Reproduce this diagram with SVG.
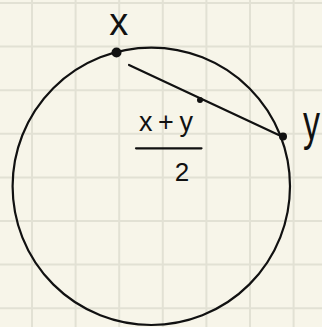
<svg xmlns="http://www.w3.org/2000/svg" width="322" height="327" viewBox="0 0 322 327">
  <style>
    .grid { stroke: #e2e1d4; stroke-width: 2; }
    .ink { stroke: #111; fill: none; stroke-width: 2.2; stroke-linecap: round; }
    .dot { fill: #111; }
    .lbl { font-family: "Liberation Sans", "DejaVu Sans", sans-serif; fill: #111; }
  </style>
  <rect width="322" height="327" fill="#f7f5e9"/>
  <g id="grid" class="grid">
    <line x1="32" y1="0" x2="32" y2="327"/>
    <line x1="75.6" y1="0" x2="75.6" y2="327"/>
    <line x1="119.2" y1="0" x2="119.2" y2="327"/>
    <line x1="162.8" y1="0" x2="162.8" y2="327"/>
    <line x1="206.4" y1="0" x2="206.4" y2="327"/>
    <line x1="250" y1="0" x2="250" y2="327"/>
    <line x1="293.6" y1="0" x2="293.6" y2="327"/>
    <line x1="0" y1="3" x2="322" y2="3"/>
    <line x1="0" y1="46.6" x2="322" y2="46.6"/>
    <line x1="0" y1="90.2" x2="322" y2="90.2"/>
    <line x1="0" y1="133.8" x2="322" y2="133.8"/>
    <line x1="0" y1="177.4" x2="322" y2="177.4"/>
    <line x1="0" y1="221" x2="322" y2="221"/>
    <line x1="0" y1="264.6" x2="322" y2="264.6"/>
    <line x1="0" y1="308.2" x2="322" y2="308.2"/>
  </g>
  <g id="circle">
    <circle class="ink" cx="151.3" cy="186.3" r="138.7"/>
  </g>
  <g id="connectors">
    <line class="ink" x1="129" y1="65" x2="283" y2="137"/>
  </g>
  <g id="point-x">
    <circle class="dot" cx="116.5" cy="52.5" r="5"/>
    <text class="lbl" x="118.7" y="35" font-size="38" text-anchor="middle">x</text>
  </g>
  <g id="point-y">
    <circle class="dot" cx="283" cy="136.5" r="4"/>
    <text class="lbl" font-size="50" transform="translate(303 140) scale(0.68 1)">y</text>
  </g>
  <g id="midpoint">
    <circle class="dot" cx="200" cy="100" r="3"/>
    <text class="lbl" x="139" y="131" font-size="27" textLength="54" lengthAdjust="spacing">x+y</text>
    <line class="ink" x1="136" y1="148.3" x2="201.5" y2="148.3"/>
    <text class="lbl" x="182" y="181" font-size="26" text-anchor="middle">2</text>
  </g>
</svg>
